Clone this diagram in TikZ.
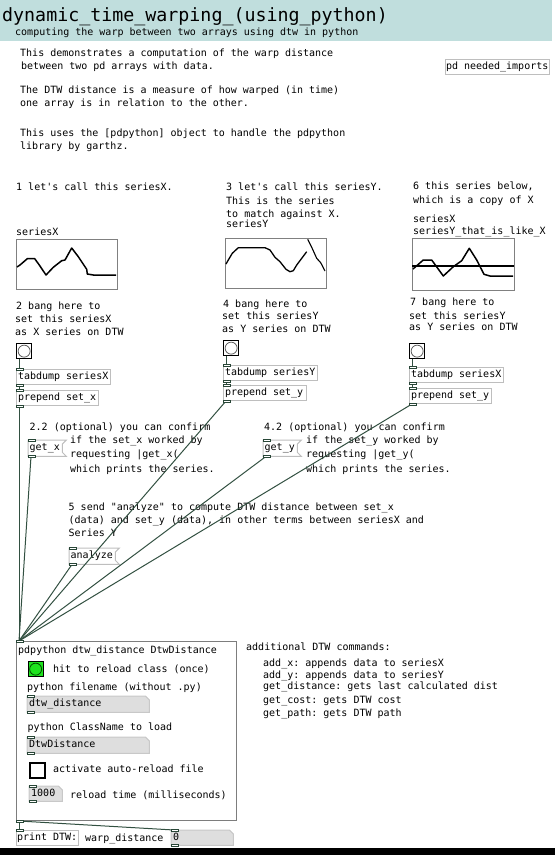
\documentclass[tikz,border=0pt]{standalone}
\usepackage{fontspec}
\setmonofont{DejaVu Sans Mono}
\usetikzlibrary{backgrounds}
\newcommand\pdtxt{\ttfamily\fontsize{10}{13}\selectfont\frenchspacing\spaceskip=6.02pt\relax}
\newcommand\pdtitle{\ttfamily\fontsize{18.3}{20}\selectfont\frenchspacing}
\definecolor{band}{RGB}{192,222,221}
\definecolor{boxb}{RGB}{190,190,190}
\definecolor{gopb}{RGB}{125,125,125}
\definecolor{arrb}{RGB}{128,128,128}
\definecolor{wirec}{RGB}{50,80,65}
\definecolor{atomf}{RGB}{222,222,222}
\definecolor{atomb}{RGB}{200,200,200}
\definecolor{portc}{RGB}{40,70,55}
\definecolor{bgreen}{RGB}{30,228,30}
\definecolor{bangc}{RGB}{95,95,95}
\begin{document}
\begin{tikzpicture}[x=1pt,y=-1pt,
  txt/.style={anchor=base west,inner sep=0pt,font=\pdtxt},
  pdbox/.style={anchor=north west,font=\pdtxt,inner xsep=2pt,inner ysep=2pt,text height=8pt,text depth=3pt,align=flush left,
    execute at begin node={\spaceskip=6.02pt\xspaceskip=6.02pt\relax}},
  obj/.style={pdbox,draw=boxb,line width=1pt},
  msg/.style={pdbox,inner ysep=2.5pt},
  atom/.style={pdbox},
  port/.style={draw=portc,fill=white,line width=0.8pt},
  wire/.style={draw=wirec,line width=1pt},
  arr/.style={draw=arrb,line width=1pt},
  curve/.style={line width=1.5pt,line join=round},
  bangbox/.style={anchor=north west,draw=black,line width=1.3pt,fill=white,minimum size=15pt,inner sep=0pt},
  flag/.style={draw=boxb,line width=1pt},
  atomshape/.style={fill=atomf,draw=atomb,line width=1pt}
]
\useasboundingbox (0,0) rectangle (555,855);
% header
\fill[band] (0,0) rectangle (552,41);
\node[txt,font=\pdtitle] (title) at (2,21) {dynamic\_time\_warping\_(using\_python)};
\node[txt] (subtitle) at (15,35) {computing the warp between two arrays using dtw in python};
% description
\node[txt] (d1) at (20,56) {This demonstrates a computation of the warp distance};
\node[txt] (d2) at (21,69) {between two pd arrays with data.};
\node[txt] (d3) at (20,93) {The DTW distance is a measure of how warped (in time)};
\node[txt] (d4) at (20,106) {one array is in relation to the other.};
\node[txt] (d5) at (20,136) {This uses the [pdpython] object to handle the pdpython};
\node[txt] (d6) at (20,149) {library by garthz.};
\node[obj,text width=103pt,inner xsep=0.5pt] (imports) at (445,59) {\mbox{pd needed\_imports}};

% column 1
\node[txt] (c1a) at (16,190) {1 let's call this seriesX.};
\node[txt] (lx) at (16,235) {seriesX};
\draw[arr] (16,239) rectangle (117,289);
\draw[curve] (17,267) -- (20,265) -- (27.3,258.7) -- (34.7,258.7) -- (39.3,265) -- (46,275) -- (53.3,267.3) -- (61.7,260.7) -- (65,260) -- (71.7,248) -- (78.3,256.7) -- (86.7,269.3) -- (87.3,274) -- (93.3,275) -- (116,275);
\node[txt] (c1b) at (16,309) {2 bang here to};
\node[txt] (c1c) at (15,322) {set this seriesX};
\node[txt] (c1d) at (15,335) {as X series on DTW};
\node[bangbox] (bangX) at (16,343) {};
\draw[bangc,line width=0.8pt] (bangX.center) circle (6);
\node[obj,text width=91pt,inner xsep=1.5pt] (tabX) at (16,369) {\mbox{tabdump seriesX}};
\node[obj,text width=79pt,inner xsep=1.5pt] (prepX) at (16,390) {\mbox{prepend set\_x}};

% column 2
\node[txt] (c2a) at (226,190) {3 let's call this seriesY.};
\node[txt] (c2b) at (226,204) {This is the series};
\node[txt] (c2c) at (226,217) {to match against X.};
\node[txt] (ly) at (226,227) {seriesY};
\draw[arr] (225,238) rectangle (326,288);
\draw[curve,line width=1.3pt] (226,264) -- (228.3,260) -- (232.3,253.3) -- (238.3,247.7) -- (265,247.7) -- (270,250) -- (275,257.3) -- (280,261.7) -- (286,269.3) -- (290,271.7) -- (293.3,270.7) -- (296.7,265) -- (306.7,251.7);
\draw[curve,line width=1.1pt] (307.7,239.3) -- (311.7,247.3) -- (316.7,258.3) -- (320.7,262.7) -- (325,271);
\node[txt] (c2d) at (223,307) {4 bang here to};
\node[txt] (c2e) at (222,319) {set this seriesY};
\node[txt] (c2f) at (222,332) {as Y series on DTW};
\node[bangbox] (bangY) at (223,340) {};
\draw[bangc,line width=0.8pt] (bangY.center) circle (6);
\node[obj,text width=91pt,inner xsep=1.5pt] (tabY) at (223,365) {\mbox{tabdump seriesY}};
\node[obj,text width=80pt,inner xsep=1.5pt] (prepY) at (223,385) {\mbox{prepend set\_y}};

% column 3
\node[txt] (c3a) at (413,189) {6 this series below,};
\node[txt] (c3b) at (413,203) {which is a copy of X};
\node[txt] (lz1) at (413,222) {seriesX};
\node[txt] (lz2) at (413,234.5) {seriesY\_that\_is\_like\_X};
\draw[arr] (412,238) rectangle (514,290);
\draw[curve,line width=2.5pt] (412,266) -- (514,266);
\draw[curve] (413,269) -- (423.3,260) -- (431.7,260) -- (443.3,276) -- (453.3,266.7) -- (461.7,260.7) -- (469.3,248.3) -- (476.7,260) -- (484,274.3) -- (490,276) -- (513,276);
\node[txt] (c3c) at (410,305.5) {7 bang here to};
\node[txt] (c3d) at (409,319) {set this seriesY};
\node[txt] (c3e) at (409,330.5) {as Y series on DTW};
\node[bangbox] (bangZ) at (409,343) {};
\draw[bangc,line width=0.8pt] (bangZ.center) circle (6);
\node[obj,text width=91pt,inner xsep=1.5pt] (tabZ) at (409,367) {\mbox{tabdump seriesX}};
\node[obj,text width=79pt,inner xsep=1.5pt] (prepZ) at (409,388) {\mbox{prepend set\_y}};

% middle
\node[txt] (o1) at (29.5,430) {2.2 (optional) you can confirm};
\node[msg,text width=31pt,inner xsep=1.5pt] (getx) at (28,440) {get\_x};
\node[txt] (o2) at (70,443.5) {if the set\_x worked by};
\node[txt] (o3) at (70,457.5) {requesting |get\_x(};
\node[txt] (o4) at (70,472.5) {which prints the series.};
\node[txt] (p1) at (264,430) {4.2 (optional) you can confirm};
\node[msg,text width=31pt,inner xsep=1.5pt] (gety) at (263,440) {get\_y};
\node[txt] (p2) at (306,443.5) {if the set\_y worked by};
\node[txt] (p3) at (306,457.5) {requesting |get\_y(};
\node[txt] (p4) at (306,472.5) {which prints the series.};
\node[txt] (a1) at (68.5,510) {5 send "analyze" to compute DTW distance between set\_x};
\node[txt] (a2) at (68.5,523) {(data) and set\_y (data), in other terms between seriesX and};
\node[txt] (a3) at (68.5,536.5) {Series Y};
\node[msg,text width=43pt,inner xsep=1.5pt] (analyze) at (69,548) {analyze};
\foreach \m in {getx,gety,analyze}{
  \draw[flag] (\m.north west) -- ([xshift=4pt]\m.north east) -- ([yshift=-4pt]\m.north east) -- ([yshift=4pt]\m.south east) -- ([xshift=4pt]\m.south east) -- (\m.south west) -- cycle;
}

% pdpython GOP
\node[draw=gopb,line width=1pt,anchor=north west,minimum width=220pt,minimum height=179pt,inner sep=0pt] (py) at (16,641) {};
\node[txt] (pyname) at (18,653) {pdpython dtw\_distance DtwDistance};
\node[bangbox,fill=bgreen] (reload) at (27.5,661) {};
\draw[black!70!green,line width=0.8pt] (reload.center) circle (6);
\node[txt] (g1) at (53,672) {hit to reload class (once)};
\node[txt] (g2) at (27,690.5) {python filename (without .py)};
\node[atom,text width=118pt,inner ysep=2.5pt] (fname) at (27,696) {dtw\_distance};
\node[txt] (g3) at (27.5,730.5) {python ClassName to load};
\node[atom,text width=118pt,inner ysep=2.5pt] (cname) at (27,737) {DtwDistance};
\node[anchor=north west,draw=black,line width=1.6pt,fill=white,minimum size=15pt,inner sep=0pt] (toggle) at (29,762) {};
\node[txt] (g4) at (53,772) {activate auto-reload file};
\node[atom,text width=29pt] (rtime) at (29,786) {1000};
\node[txt] (g5) at (70,798) {reload time (milliseconds)};

% right notes
\node[txt] (r0) at (246,650) {additional DTW commands:};
\node[txt] (r1) at (263,666) {add\_x: appends data to seriesX};
\node[txt] (r2) at (263,678) {add\_y: appends data to seriesY};
\node[txt] (r3) at (263,689) {get\_distance: gets last calculated dist};
\node[txt] (r4) at (263,703) {get\_cost: gets DTW cost};
\node[txt] (r5) at (263,716) {get\_path: gets DTW path};

% bottom
\node[obj,text width=61pt,inner xsep=0.5pt] (print) at (16,830) {\mbox{print DTW:}};
\node[txt] (wlab) at (85,841) {warp\_distance};
\node[atom,text width=58pt] (num0) at (171,830) {0};

% atom boxes on background
\begin{scope}[on background layer]
\foreach \a in {fname,cname,rtime,num0}{
  \filldraw[atomshape] (\a.north west) -- ([xshift=-4pt]\a.north east) -- ([yshift=-4pt]\a.north east) -- (\a.south east) -- (\a.south west) -- cycle;
}
\end{scope}

% wires
\draw[wire] ([xshift=3pt]bangX.south west) -- ([xshift=3pt]tabX.north west);
\draw[wire] ([xshift=3pt]tabX.south west) -- ([xshift=3pt]prepX.north west);
\draw[wire] ([xshift=3pt]prepX.south west) -- ([xshift=3pt]py.north west);
\draw[wire] ([xshift=3pt]bangY.south west) -- ([xshift=3pt]tabY.north west);
\draw[wire] ([xshift=3pt]tabY.south west) -- ([xshift=3pt]prepY.north west);
\draw[wire] ([xshift=3pt]prepY.south west) -- ([xshift=3pt]py.north west);
\draw[wire] ([xshift=3pt]bangZ.south west) -- ([xshift=3pt]tabZ.north west);
\draw[wire] ([xshift=3pt]tabZ.south west) -- ([xshift=3pt]prepZ.north west);
\draw[wire] ([xshift=3pt]prepZ.south west) -- ([xshift=3pt]py.north west);
\draw[wire] ([xshift=3pt]getx.south west) -- ([xshift=3pt]py.north west);
\draw[wire] ([xshift=3pt]gety.south west) -- ([xshift=3pt]py.north west);
\draw[wire] ([xshift=3pt]analyze.south west) -- ([xshift=3pt]py.north west);
\draw[wire] ([xshift=3pt]py.south west) -- ([xshift=3pt]print.north west);
\draw[wire] ([xshift=3pt]py.south west) -- ([xshift=3pt]num0.north west);

% ports
\foreach \n in {tabX,prepX,tabY,prepY,tabZ,prepZ,getx,gety,analyze,py,fname,cname,rtime,num0}{
  \draw[port] ([yshift=1pt]\n.north west) rectangle ++(7,2);
  \draw[port] ([yshift=-1pt]\n.south west) rectangle ++(7,-2);
}
\draw[port] ([yshift=1pt]print.north west) rectangle ++(7,2);

% bottom strip
\fill[black] (0,848) rectangle (555,855);
\end{tikzpicture}
\end{document}
